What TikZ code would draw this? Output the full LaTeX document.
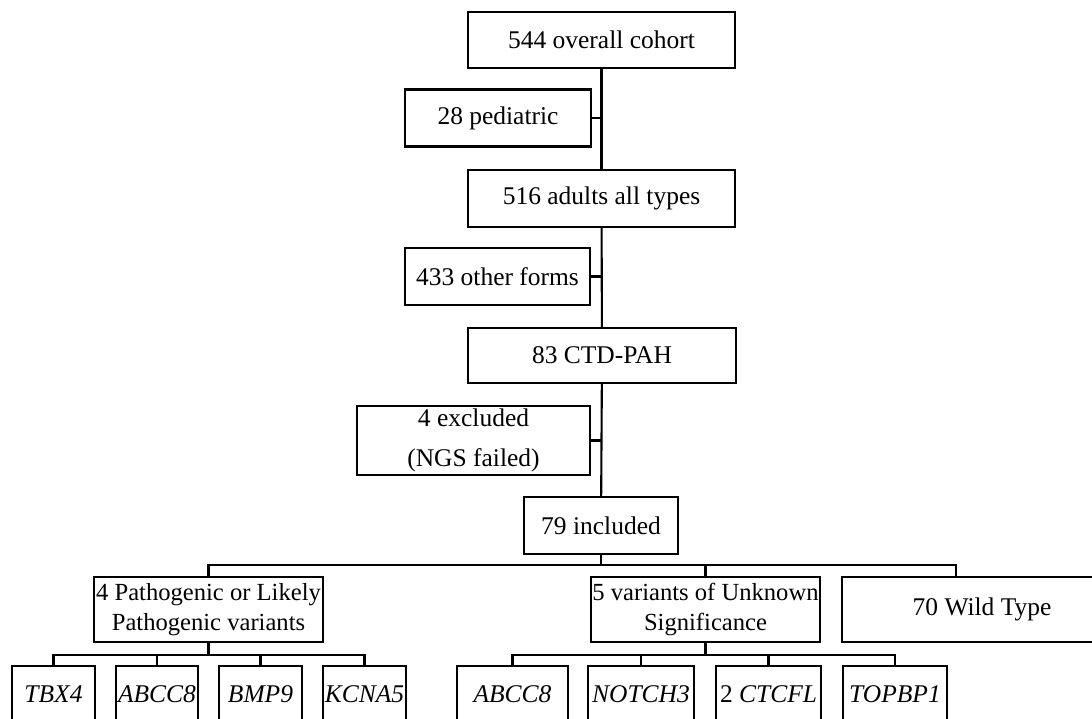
\documentclass[tikz,border=0pt]{standalone}
\usepackage{fontspec}
\setmainfont{Liberation Serif}
\usepackage{tikz}
\usetikzlibrary{positioning,calc}

\begin{document}
\begin{tikzpicture}[x=0.02cm, y=-0.02cm, line width=1.2pt,
    box/.style={draw, inner sep=1pt, align=center, font=\fontsize{14.5}{17}\selectfont},
    group/.style={box, minimum height=1.30cm, font=\fontsize{14}{17}\selectfont},
    gene/.style={box, minimum height=1.14cm, font=\fontsize{14.5}{17}\selectfont\itshape}]
  \clip (0,0) rectangle (1092,718);

  % Main column
  \node[box, minimum width=5.34cm, minimum height=1.12cm] (cohort) at (601.5,40) {544 overall cohort};
  \node[box, minimum width=3.72cm, minimum height=1.14cm] (pediatric) at (498,118) {28 pediatric};
  \node[box, minimum width=5.34cm, minimum height=1.14cm] (adults) at (601.5,198.5) {516 adults all types};
  \node[box, minimum width=3.70cm, minimum height=1.14cm] (other) at (497.5,276.5) {433 other forms};
  \node[box, minimum width=5.36cm, minimum height=1.10cm] (ctd) at (602,355.5) {83 CTD-PAH};
  \node[box, minimum width=4.66cm, minimum height=1.38cm] (excluded) at (473.5,440.5) {4 excluded\\[5.5pt](NGS failed)};
  \node[box, minimum width=3.08cm, minimum height=1.14cm] (included) at (601,525.5) {79 included};

  \draw (cohort) -- (adults);
  \draw (adults) -- (ctd);
  \draw (ctd) -- (included);
  \draw (pediatric.east) -- (pediatric.east -| cohort.south);
  \draw (other.east) -- (other.east -| cohort.south);
  \draw (excluded.east) -- (excluded.east -| cohort.south);

  % Variant groups
  \node[group, minimum width=4.54cm] (patho) at (208.5,609.5) {4 Pathogenic or Likely\\Pathogenic variants};
  \node[group, minimum width=4.58cm] (vus) at (705.5,609.5) {5 variants of Unknown\\Significance};
  \node[group, minimum width=5.60cm, font=\fontsize{14.5}{17}\selectfont] (wild) at (982,609.5) {70 Wild Type};

  \coordinate (groupbus) at (601,565);
  \coordinate (wildin) at (956,577);
  \draw (included) -- (groupbus);
  \draw (patho.north) |- (groupbus) -| (wildin);
  \draw (vus.north) -- (vus.north |- groupbus);

  % Genes
  \foreach \name/\x/\w/\txt in {tbx/53.5/1.66/TBX4, abccA/157/1.64/ABCC8, bmp/260.5/1.66/BMP9, kcna/364.5/1.66/KCNA5,
                                abccB/512.5/2.22/ABCC8, notch/641/2.12/NOTCH3, ctcfl/768.5/2.10/\upshape 2 \itshape CTCFL, topbp/895/2.08/TOPBP1} {
    \node[gene, minimum width=\w cm] (\name) at (\x,694.5) {\txt};
  }

  \path (patho.south) ++(0,12) coordinate (pathobus);
  \path (vus.south) ++(0,12) coordinate (vusbus);
  \draw (patho.south) -- (pathobus);
  \draw (vus.south) -- (vusbus);
  \draw (tbx.north) |- (pathobus) -| (kcna.north);
  \draw (abccA.north) -- (abccA.north |- pathobus);
  \draw (bmp.north) -- (bmp.north |- pathobus);
  \draw (abccB.north) |- (vusbus) -| (topbp.north);
  \draw (notch.north) -- (notch.north |- vusbus);
  \draw (ctcfl.north) -- (ctcfl.north |- vusbus);
\end{tikzpicture}
\end{document}
